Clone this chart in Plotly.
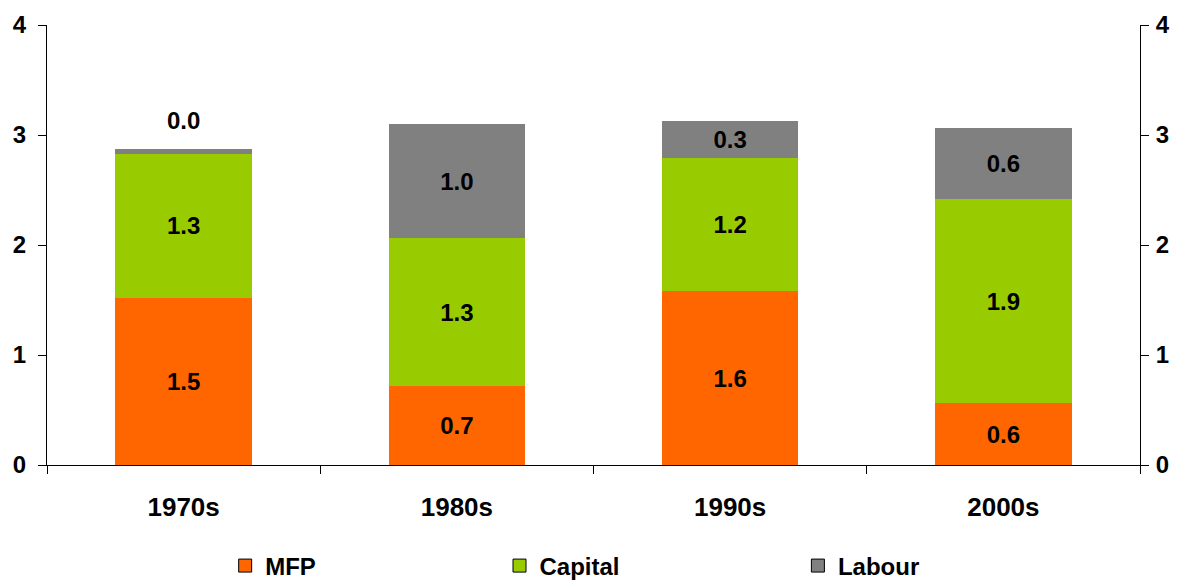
import plotly.graph_objects as go

categories = ["1970s", "1980s", "1990s", "2000s"]
mfp = [1.52, 0.72, 1.58, 0.56]
capital = [1.31, 1.34, 1.21, 1.86]
labour = [0.04, 1.04, 0.34, 0.64]
y_ticks = [0, 1, 2, 3, 4]

C_MFP = "#FF6600"
C_CAP = "#99CC00"
C_LAB = "#808080"
FONT = "Liberation Sans, Arial, sans-serif"

fig = go.Figure()

def bar(name, vals, color, positions):
    fig.add_trace(go.Bar(
        x=categories, y=vals, name=name, marker=dict(color=color, line=dict(width=0)),
        texttemplate="<b>%{y:.1f}</b>", textposition=positions,
        insidetextanchor="middle", constraintext="none",
        textfont=dict(family=FONT, size=24, color="black"),
        showlegend=False, hoverinfo="skip"))

bar("MFP", mfp, C_MFP, "inside")
bar("Capital", capital, C_CAP, "inside")
lab_pos = ["none" if v < 0.1 else "inside" for v in labour]
bar("Labour", labour, C_LAB, lab_pos)

# labels for tiny segments placed above the stack
for i, v in enumerate(labour):
    if v < 0.1:
        fig.add_annotation(x=categories[i], y=mfp[i] + capital[i] + v, yref="y",
                           text=f"<b>{v:.1f}</b>", showarrow=False, yanchor="bottom",
                           yshift=13, font=dict(family=FONT, size=24, color="black"))

# legend entries, each in its own legend for exact placement
legend_x = [0.163, 0.414, 0.687]
for k, (name, color) in enumerate([("MFP", C_MFP), ("Capital", C_CAP), ("Labour", C_LAB)]):
    lg = "legend" if k == 0 else f"legend{k+1}"
    fig.add_trace(go.Scatter(
        x=[None], y=[None], mode="markers", name=f"<b>{name}</b>", legend=lg,
        marker=dict(symbol="square", size=13, color=color, line=dict(color="black", width=1))))
    fig.update_layout({lg: dict(orientation="h", x=legend_x[k], xanchor="left",
                                y=-0.2295, yanchor="middle", bgcolor="rgba(0,0,0,0)",
                                font=dict(family=FONT, size=24, color="black"))})

# invisible trace for right axis
fig.add_trace(go.Scatter(x=categories, y=[None]*4, yaxis="y2", showlegend=False, hoverinfo="skip"))

axis_common = dict(showline=True, linecolor="black", linewidth=1, ticks="outside",
                   ticklen=8, tickcolor="black", showgrid=False, zeroline=False,
                   automargin=False)

fig.update_layout(
    barmode="stack", bargap=0.5,
    width=1181, height=581,
    margin=dict(l=47, r=41, t=25, b=116, autoexpand=False),
    paper_bgcolor="white", plot_bgcolor="white",
    font=dict(family=FONT, size=24, color="black"),
    xaxis=dict(**axis_common, tickson="boundaries",
               tickfont=dict(family=FONT, size=26), ticklabelstandoff=19,
               tickvals=categories, ticktext=[f"<b>{c}</b>" for c in categories]),
    yaxis=dict(**axis_common, range=[0, 4], tickvals=y_ticks,
               ticktext=[f"<b>{t}</b>" for t in y_ticks],
               tickfont=dict(family=FONT, size=24), ticklabelstandoff=7),
    yaxis2=dict(**axis_common, range=[0, 4], tickvals=y_ticks,
                ticktext=[f"<b>{t}</b>" for t in y_ticks],
                overlaying="y", side="right", anchor="x",
                tickfont=dict(family=FONT, size=24), ticklabelstandoff=2),
)

fig.write_html("out.html", config={"displayModeBar": False},
               post_script="document.body.style.margin='0';document.body.style.padding='0';")
